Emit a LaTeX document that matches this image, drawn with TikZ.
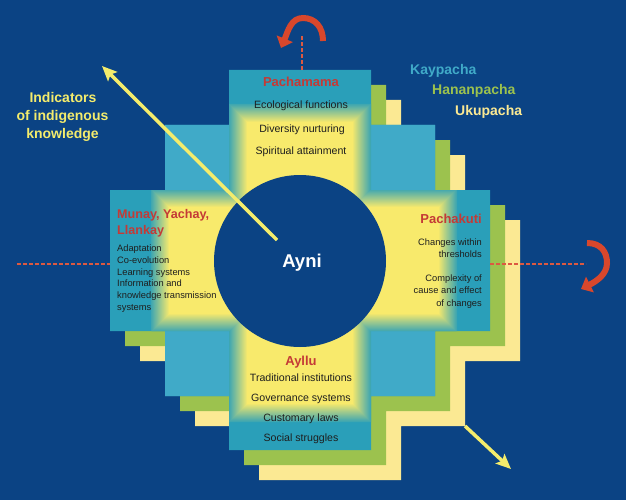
\documentclass[tikz,border=0pt]{standalone}
\usepackage{fontspec}
\setmainfont{Liberation Sans}
\usetikzlibrary{arrows.meta}
\definecolor{bg}{HTML}{0B4384}
\definecolor{tealA}{HTML}{2A9FB9}
\definecolor{tealB}{HTML}{40AAC8}
\definecolor{glow}{HTML}{F8EA6C}
\definecolor{paleY}{HTML}{FBE993}
\definecolor{grn}{HTML}{9CC24E}
\definecolor{redT}{HTML}{C43A36}
\definecolor{redA}{HTML}{D8472C}
\definecolor{txt}{HTML}{1E1E1E}
\definecolor{yarrow}{HTML}{F4EC6C}
\begin{document}
\begin{tikzpicture}[x=1pt,y=-1pt,
  ttl/.style={font=\fontsize{13}{15}\selectfont\bfseries, text=redT, inner sep=0pt, anchor=base},
  bdy/.style={font=\fontsize{10.6}{13}\selectfont, text=txt, inner sep=0pt, anchor=base},
  sml/.style={font=\fontsize{9.3}{11}\selectfont, text=txt, inner sep=0pt},
  world/.style={font=\fontsize{14}{16}\selectfont\bfseries, inner sep=0pt, anchor=base west},
  ind/.style={font=\fontsize{14}{16}\selectfont\bfseries, text=yarrow, inner sep=0pt, anchor=base},
  reddash/.style={draw=redA!90!white, line width=1.8pt, dash pattern=on 4pt off 2pt},
  redarrow/.style={draw=redA, line width=6pt, -{Triangle[length=10pt,width=17pt]}},
  yelarrow/.style={draw=yarrow, line width=3.5pt, -{Stealth[length=15pt,width=13pt,inset=3pt]}}]
\fill[bg] (0,0) rectangle (626,500);
\useasboundingbox (0,0) rectangle (626,500);
% stacked chakana shapes
\foreach \d/\c in {30/paleY,15/grn,0/tealA}{
  \fill[\c, shift={(\d,\d)}] (229,70) -- (371,70) -- (371,125) -- (435,125) -- (435,190) -- (490,190)
    -- (490,331) -- (435,331) -- (435,396) -- (371,396) -- (371,450) -- (229,450) -- (229,396)
    -- (165,396) -- (165,331) -- (110,331) -- (110,190) -- (165,190) -- (165,125) -- (229,125) -- cycle;
}
% lighter corner squares
\fill[tealB] (165,125) rectangle (229,190) (371,125) rectangle (435,190)
  (165,331) rectangle (229,396) (371,331) rectangle (435,396);
% yellow glow in the arms
\begin{scope}
  \clip (229,70) rectangle (371,450) (110,190) rectangle (490,331);
  \foreach \k in {0,...,18}{
    \pgfmathsetmacro\o{9-\k}
    \pgfmathtruncatemacro\p{5*(\k+1)+5}
    \fill[glow!\p!tealA] ({238-\o},{113-\o}) rectangle ({362+\o},{413+\o})
      ({160-\o},{198-\o}) rectangle ({448+\o},{323+\o});
  }
\end{scope}
% central circle
\fill[bg] (300,261) circle[radius=86];
\node[font=\fontsize{18.5}{20}\selectfont\bfseries, text=white, inner sep=0pt, anchor=base] (ayni) at (302,267) {Ayni};
% Pachamama
\node[ttl] (pacha) at (301,87) {Pachamama};
\node[bdy] (eco) at (301,109) {Ecological functions};
\node[bdy] (div) at (302,132) {Diversity nurturing};
\node[bdy] (spi) at (301,154) {Spiritual attainment};
% Ayllu
\node[ttl] (ayllu) at (301,365) {Ayllu};
\node[bdy] (tra) at (301,381) {Traditional institutions};
\node[bdy] (gov) at (301,401) {Governance systems};
\node[bdy] (cus) at (301,421) {Customary laws};
\node[bdy] (soc) at (301,441) {Social struggles};
% Munay
\node[ttl, anchor=base west, font=\fontsize{12.6}{15}\selectfont\bfseries] (mun1) at (117,218) {Munay, Yachay,};
\node[ttl, anchor=base west, font=\fontsize{12.6}{15}\selectfont\bfseries] (mun2) at (117,234.5) {Llankay};
\node[sml, anchor=base west] (m1) at (117,251.7) {Adaptation};
\node[sml, anchor=base west] (m2) at (117,263.3) {Co-evolution};
\node[sml, anchor=base west] (m3) at (117,275) {Learning systems};
\node[sml, anchor=base west] (m4) at (117,286.7) {Information and};
\node[sml, anchor=base west] (m5) at (117,298.3) {knowledge transmission};
\node[sml, anchor=base west] (m6) at (117,310) {systems};
% Pachakuti
\node[ttl, anchor=base east] (pk) at (482,223.3) {Pachakuti};
\node[sml, anchor=base east] (p1) at (482,245) {Changes within};
\node[sml, anchor=base east] (p2) at (482,257.3) {thresholds};
\node[sml, anchor=base east] (p3) at (482,281.7) {Complexity of};
\node[sml, anchor=base east] (p4) at (482,293.3) {cause and effect};
\node[sml, anchor=base east] (p5) at (482,306) {of changes};
% worlds
\node[world, text=tealB] (kay) at (410,75) {Kaypacha};
\node[world, text=grn] (han) at (432,95) {Hananpacha};
\node[world, text=paleY] (uku) at (455,116) {Ukupacha};
% indicators
\node[ind] (i1) at (63,102.7) {Indicators};
\node[ind] (i2) at (62.5,120.7) {of indigenous};
\node[ind] (i3) at (62.5,138.3) {knowledge};
% yellow arrows
\coordinate (y1s) at (277,240);
\coordinate (y1e) at (102,66);
\draw[yelarrow] (y1s) -- (y1e);
\coordinate (y2s) at (465,426);
\coordinate (y2e) at (511,469);
\draw[yelarrow] (y2s) -- (y2e);
% red dashed lines
\coordinate (tdA) at (302,70);
\coordinate (tdB) at (302,36);
\draw[reddash] (tdA) -- (tdB);
\coordinate (ldA) at (17,264);
\coordinate (ldB) at (110,264);
\draw[reddash] (ldA) -- (ldB);
\coordinate (rdA) at (490,264);
\coordinate (rdB) at (586,264);
\draw[reddash] (rdA) -- (rdB);
% red curved arrows
\coordinate (ta1) at (323,41);
\coordinate (ta2) at (303,18);
\coordinate (ta3) at (281,48);
\draw[redarrow] (ta1) .. controls (323,27) and (315,18) .. (ta2) .. controls (291,18) and (288,31) .. (ta3);
\coordinate (ra1) at (587,243);
\coordinate (ra2) at (607,263);
\coordinate (ra3) at (581,289);
\draw[redarrow] (ra1) .. controls (601,243) and (607,252) .. (ra2) .. controls (607,274) and (597,281) .. (ra3);
\end{tikzpicture}
\end{document}
